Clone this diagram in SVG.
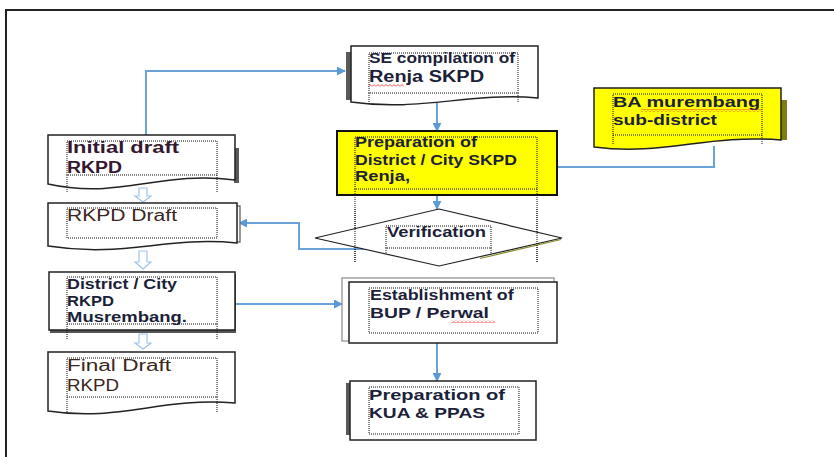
<svg xmlns="http://www.w3.org/2000/svg" width="834" height="457" viewBox="0 0 834 457">
  <defs>
    <marker id="arrow" viewBox="0 0 10 10" refX="9" refY="5" markerWidth="9" markerHeight="9" markerUnits="userSpaceOnUse" orient="auto">
      <path d="M0,0 L10,5 L0,10 z" fill="#5b9bd5"/>
    </marker>
    <pattern id="squiggle" width="4" height="3" patternUnits="userSpaceOnUse">
      <polyline points="0,2.5 2,0.5 4,2.5" fill="none" stroke="#e02020" stroke-width="0.8"/>
    </pattern>
    <style>
      .shape { fill: #ffffff; stroke: #222222; stroke-width: 1.5; }
      .hl { fill: #ffff00; }
      .shadow { fill: #5a5a5a; }
      .frame { fill: none; stroke: #111111; stroke-width: 1; stroke-dasharray: 1 1; }
      .conn { fill: none; stroke: #6aa3da; stroke-width: 2; }
      .block { fill: #ffffff; stroke: #9fc4e8; stroke-width: 1.2; }
      .t { font-family: "Liberation Sans", Arial, sans-serif; font-size: 14px; font-weight: bold; fill: #1c1f3a; }
      .tl { font-family: "Liberation Sans", Arial, sans-serif; font-size: 16px; font-weight: bold; fill: #34182f; }
      .tr { font-family: "Liberation Sans", Arial, sans-serif; font-size: 16px; font-weight: normal; fill: #3a2620; }
      .big { font-size: 15px; }
    </style>
  </defs>

  <!-- page background and frame edges -->
  <rect x="0" y="0" width="834" height="457" fill="#ffffff"/>
  <path d="M6,457 V10 H834" fill="none" stroke="#222222" stroke-width="2"/>

  <!-- connectors -->
  <g id="connectors">
    <path class="conn" d="M146,135 V71 H345" marker-end="url(#arrow)"/>
    <path class="conn" d="M437,103 V131" marker-end="url(#arrow)"/>
    <path class="conn" d="M437,195 V209" marker-end="url(#arrow)"/>
    <path class="conn" d="M364,249 H299 V223 H239" marker-end="url(#arrow)"/>
    <path class="conn" d="M235,304 H342" marker-end="url(#arrow)"/>
    <path class="conn" d="M437,343 V381" marker-end="url(#arrow)"/>
    <path class="conn" d="M557,167 H714 V146"/>
    <!-- hollow block arrows down the left column -->
    <path class="block" d="M139,188 H147 V196 H151 L143,202 L135,196 H139 Z"/>
    <path class="block" d="M139,251 H147 V262 H151 L143,269 L135,262 H139 Z"/>
    <path class="block" d="M139,334 H147 V343 H151 L143,349 L135,343 H139 Z"/>
  </g>

  <!-- SE compilation of Renja SKPD -->
  <g id="se-compilation">
    <rect class="shadow" x="346" y="52" width="6" height="48"/>
    <path class="shape" d="M351,46 H538 V98 C470,92 420,112 351,102 Z"/>
    <rect class="frame" x="369" y="53" width="149" height="40"/>
    <path class="frame" d="M369,93 V102 M518,93 V102"/>
    <text class="t" x="369" y="63" textLength="146" lengthAdjust="spacingAndGlyphs">SE compilation of</text>
    <text class="t" x="369" y="82" style="font-size:16px" textLength="115" lengthAdjust="spacingAndGlyphs">Renja SKPD</text>
    <rect x="369" y="84" width="35" height="3" fill="url(#squiggle)"/>
  </g>

  <!-- BA murembang sub-district -->
  <g id="ba-murembang">
    <rect x="781" y="100" width="6" height="40" fill="#7d7d10"/>
    <path class="shape hl" d="M594,88 H781 V140 C705,134 665,156 594,147 Z"/>
    <rect class="frame" x="613" y="94" width="149" height="41"/>
    <path class="frame" d="M613,135 V144 M762,135 V144"/>
    <text class="t big" x="613" y="107" textLength="147" lengthAdjust="spacingAndGlyphs">BA murembang</text>
    <text class="t big" x="613" y="125" textLength="104" lengthAdjust="spacingAndGlyphs">sub-district</text>
    <rect x="641" y="109" width="120" height="3" fill="url(#squiggle)"/>
  </g>

  <!-- Preparation of District / City SKPD Renja -->
  <g id="prep-renja">
    <rect x="337" y="131" width="220" height="64" fill="#ffff00" stroke="#111111" stroke-width="2"/>
    <rect class="frame" x="355" y="137" width="182" height="52"/>
    <path class="frame" d="M355,189 V262 M537,189 V262"/>
    <text class="t" x="355" y="147" textLength="122" lengthAdjust="spacingAndGlyphs">Preparation of</text>
    <text class="t" x="355" y="165" textLength="162" lengthAdjust="spacingAndGlyphs">District / City SKPD</text>
    <text class="t" x="355" y="181" textLength="55" lengthAdjust="spacingAndGlyphs">Renja,</text>
  </g>

  <!-- Verification -->
  <g id="verification">
    <polygon points="439,209 562,238 439,266 315,238" fill="#ffffff" stroke="#222222" stroke-width="1.2"/>
    <path d="M561,239.5 L480,258.5" fill="none" stroke="#8a8a30" stroke-width="1.2"/>
    <path class="frame" d="M355,209 V262 M537,209 V262"/>
    <rect class="frame" x="386" y="226" width="105" height="22"/>
    <path class="frame" d="M386,248 V254 M491,248 V254"/>
    <text class="t" x="387" y="237" textLength="99" lengthAdjust="spacingAndGlyphs">Verification</text>
  </g>

  <!-- Establishment of BUP / Perwal -->
  <g id="establishment">
    <rect x="342" y="278" width="212" height="63" fill="#ffffff" stroke="#8a8a8a" stroke-width="1.2"/>
    <rect class="shape" x="349" y="282" width="208" height="61"/>
    <rect class="frame" x="369" y="288" width="169" height="45"/>
    <text class="t big" transform="translate(370,300) scale(1.19,1)" x="0" y="0">Establishment of</text>
    <text class="t big" transform="translate(370,318) scale(1.29,1)" x="0" y="0">BUP / Perwal</text>
    <rect x="451" y="320" width="44" height="3" fill="url(#squiggle)"/>
  </g>

  <!-- Preparation of KUA & PPAS -->
  <g id="prep-kua">
    <rect class="shadow" x="346" y="383" width="4" height="52"/>
    <rect class="shape" x="350" y="381" width="186" height="59"/>
    <rect class="frame" x="369" y="387" width="150" height="47"/>
    <text class="t" x="369" y="400" textLength="136" lengthAdjust="spacingAndGlyphs">Preparation of</text>
    <text class="t" x="369" y="418" textLength="116" lengthAdjust="spacingAndGlyphs">KUA &amp; PPAS</text>
  </g>

  <!-- Initial draft RKPD -->
  <g id="initial-draft">
    <rect class="shadow" x="234" y="148" width="5" height="35"/>
    <path class="shape" d="M48,135 H235 V180 C160,170 120,200 48,184 Z"/>
    <rect class="frame" x="67" y="141" width="150" height="34"/>
    <path class="frame" d="M67,175 V193 M217,175 V193"/>
    <text class="tl" x="67" y="153" textLength="112" lengthAdjust="spacingAndGlyphs">Initial draft</text>
    <text class="tl" x="67" y="173" textLength="55" lengthAdjust="spacingAndGlyphs">RKPD</text>
  </g>

  <!-- RKPD Draft -->
  <g id="rkpd-draft">
    <rect x="235" y="206" width="5" height="36" fill="#ffffff" stroke="#555555" stroke-width="1.2"/>
    <path class="shape" d="M48,203 H237 V243 C165,236 125,258 48,246 Z"/>
    <rect class="frame" x="67" y="208" width="150" height="30"/>
    <text class="tr" x="67" y="221" textLength="110" lengthAdjust="spacingAndGlyphs">RKPD Draft</text>
  </g>

  <!-- District / City RKPD Musrembang -->
  <g id="district-musrembang">
    <rect x="50" y="274" width="186" height="59" fill="#555555"/>
    <rect class="shape" x="49" y="272" width="186" height="58"/>
    <rect class="frame" x="67" y="277" width="150" height="47"/>
    <path class="frame" d="M67,324 V340 M217,324 V340"/>
    <text class="t big" x="67" y="289" textLength="110" lengthAdjust="spacingAndGlyphs">District / City</text>
    <text class="t big" x="67" y="306" textLength="47" lengthAdjust="spacingAndGlyphs">RKPD</text>
    <text class="t big" x="67" y="322" textLength="120" lengthAdjust="spacingAndGlyphs">Musrembang.</text>
  </g>

  <!-- Final Draft RKPD -->
  <g id="final-draft">
    <path class="shape" d="M48,352 H235 V403 C160,397 120,422 48,411 Z"/>
    <rect class="frame" x="67" y="358" width="150" height="39"/>
    <path class="frame" d="M67,397 V412 M217,397 V412"/>
    <text class="tr" x="67" y="371" textLength="104" lengthAdjust="spacingAndGlyphs">Final Draft</text>
    <text class="tr" x="67" y="391" textLength="52" lengthAdjust="spacingAndGlyphs">RKPD</text>
  </g>
</svg>
